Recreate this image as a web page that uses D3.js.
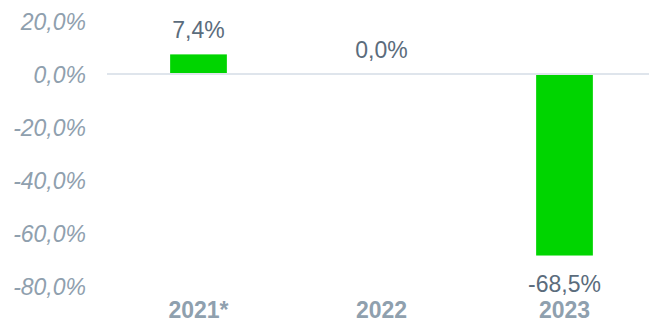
<!DOCTYPE html>
<html>
<head>
<meta charset="utf-8">
<script src="https://cdn.jsdelivr.net/npm/d3@7"></script>
<style>
  html, body { margin: 0; padding: 0; background: #ffffff; }
  svg { display: block; font-family: "Liberation Sans", Arial, sans-serif; }
</style>
</head>
<body>
<svg id="chart" width="649" height="323"></svg>
<script>
// Year-over-year change by year
const categories = ["2021*", "2022", "2023"];
const values = [7.4, 0.0, -68.5];
const tickValues = [20, 0, -20, -40, -60, -80];

const fmt = v => d3.format(".1f")(v).replace(".", ",").replace("−", "-") + "%";

const svg = d3.select("#chart");

const y = d3.scaleLinear().domain([-80, 20]).range([286, 21]);
const x = d3.scaleBand().domain(categories).range([107, 656]).paddingInner(0.69).paddingOuter(0.345);

// Y-axis tick labels (no axis line)
const yAxis = d3.axisLeft(y).tickValues(tickValues).tickSize(0).tickPadding(0).tickFormat(fmt);
const gy = svg.append("g").attr("transform", "translate(86,0)").call(yAxis);
gy.select(".domain").remove();
gy.selectAll("text")
  .attr("fill", "#8fa0ae")
  .attr("font-size", 23)
  .attr("font-style", "italic")
  .attr("font-family", "Liberation Sans, Arial, sans-serif")
  .attr("dy", "0.36em");

// Bars
svg.append("g").selectAll("rect")
  .data(values)
  .join("rect")
  .attr("x", (d, i) => x(categories[i]))
  .attr("width", x.bandwidth())
  .attr("y", d => y(Math.max(0, d)))
  .attr("height", d => Math.abs(y(d) - y(0)))
  .attr("fill", "#00d500");

// Zero baseline
svg.append("line")
  .attr("x1", 107).attr("x2", 649)
  .attr("y1", y(0)).attr("y2", y(0))
  .attr("stroke", "#dfe5ec").attr("stroke-width", 2);

// Value labels
svg.append("g").selectAll("text")
  .data(values)
  .join("text")
  .attr("x", (d, i) => x(categories[i]) + x.bandwidth() / 2)
  .attr("y", d => d >= 0 ? y(d) - 16 : y(d) + 36)
  .attr("text-anchor", "middle")
  .attr("font-size", 23)
  .attr("fill", "#5b6c7c")
  .text(d => fmt(d));

// Category labels
const xAxis = d3.axisBottom(x).tickSize(0).tickPadding(0);
const gx = svg.append("g").attr("transform", "translate(0,301)").call(xAxis);
gx.select(".domain").remove();
gx.selectAll("text")
  .attr("fill", "#8fa0ae")
  .attr("font-size", 23)
  .attr("font-weight", "bold")
  .attr("font-family", "Liberation Sans, Arial, sans-serif")
  .attr("dy", "0.73em");
</script>
</body>
</html>
